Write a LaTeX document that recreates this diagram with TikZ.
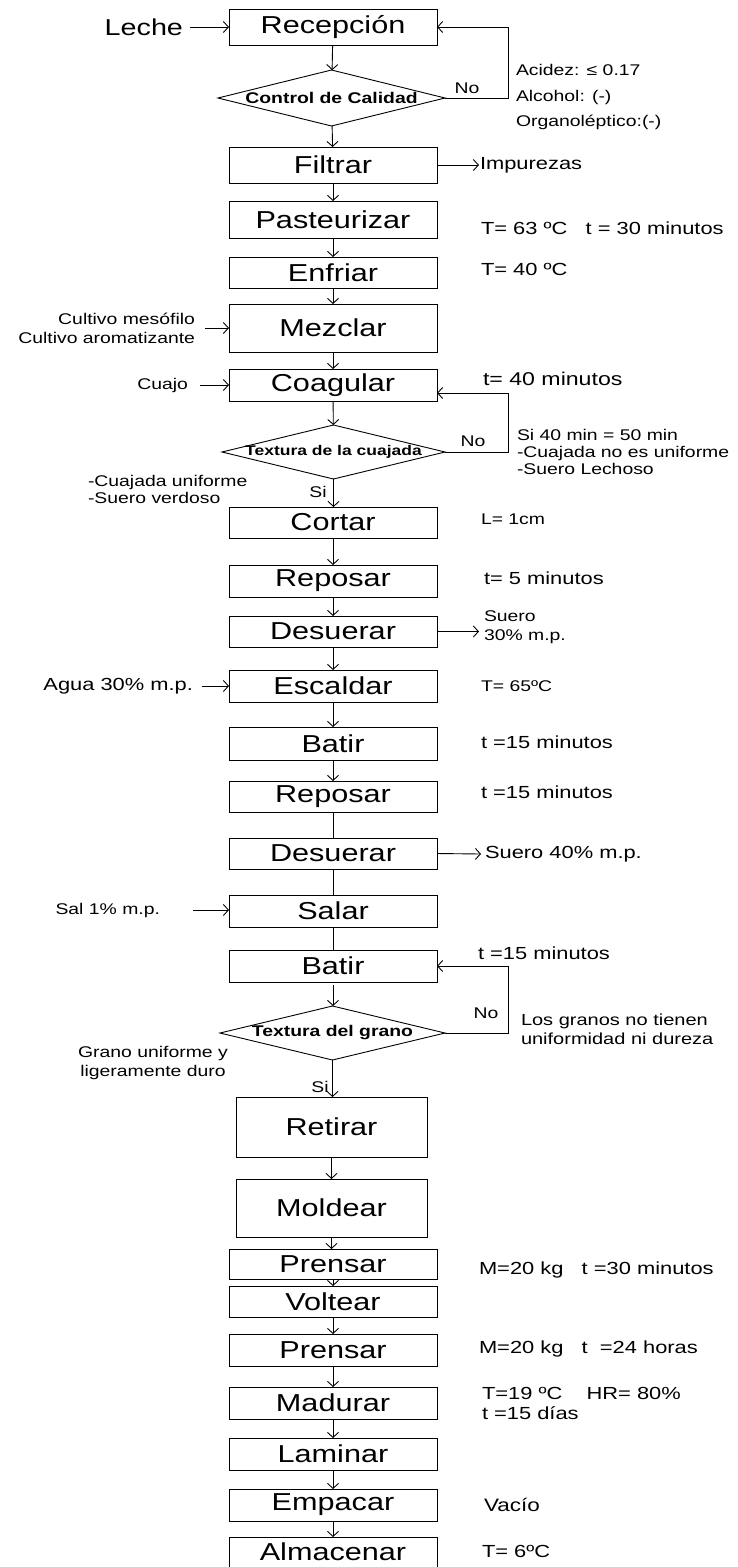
\documentclass[tikz,border=0pt]{standalone}
\usepackage{fontspec}
\setmainfont{Liberation Sans}[FakeStretch=1.25]
\usetikzlibrary{arrows.meta,shapes.geometric}
\begin{document}
\begin{tikzpicture}[x=1pt,y=-1pt,
  every node/.style={inner sep=0pt, outer sep=0pt},
  box/.style={draw, line width=0.9pt, minimum width=208pt, font=\fontsize{24.5}{27}\selectfont},
  bigbox/.style={draw, line width=0.9pt, minimum width=191pt, minimum height=62pt, font=\fontsize{24.5}{27}\selectfont},
  dia/.style={draw, diamond, line width=0.9pt},
  dtxt/.style={font=\fontsize{15.5}{18}\selectfont\bfseries},
  side/.style={font=\fontsize{15.5}{19}\selectfont, align=left},
  sideb/.style={font=\fontsize{17.5}{21}\selectfont, align=left},
  big/.style={font=\fontsize{23}{26}\selectfont},
  conn/.style={line width=0.9pt},
  arr/.style={conn, -{Straight Barb[length=5pt,width=11pt]}},
]
\useasboundingbox (0,0) rectangle (738,1567);

% main column
\node[box, minimum height=36pt] (rec) at (333,27) {Recepción};
\node[dia, minimum width=227pt, minimum height=56pt, label={[dtxt]center:Control de Calidad}] (d1) at (331.5,98) {};
\node[box, minimum height=36pt] (fil) at (333,165) {Filtrar};
\node[box, minimum height=37pt] (pas) at (333,219.5) {Pasteurizar};
\node[box, minimum height=31pt] (enf) at (333,272.5) {Enfriar};
\node[box, minimum height=48pt] (mez) at (333,328) {Mezclar};
\node[box, minimum height=32pt] (coa) at (333,385) {Coagular};
\node[dia, minimum width=223pt, minimum height=54pt, label={[dtxt,font=\fontsize{14}{16}\selectfont\bfseries]center:Textura de la cuajada}] (d2) at (333.5,452) {};
\node[box, minimum height=31pt] (cor) at (333,522.5) {Cortar};
\node[box, minimum height=32pt] (rep1) at (333,581) {Reposar};
\node[box, minimum height=31pt] (des1) at (333,631.5) {Desuerar};
\node[box, minimum height=32pt] (esc) at (333,686) {Escaldar};
\node[box, minimum height=33pt] (bat1) at (333,743.5) {Batir};
\node[box, minimum height=31pt] (rep2) at (333,796.5) {Reposar};
\node[box, minimum height=31pt] (des2) at (333,853.5) {Desuerar};
\node[box, minimum height=32pt] (sal) at (333,911) {Salar};
\node[box, minimum height=32pt] (bat2) at (333,966) {Batir};
\node[dia, minimum width=225pt, minimum height=54pt, label={[dtxt]center:Textura del grano}] (d3) at (332.5,1033) {};
\node[bigbox, minimum height=60pt] (ret) at (331.5,1127) {Retirar};
\node[bigbox, minimum height=58pt] (mol) at (331.5,1208) {Moldear};
\node[box, minimum height=30pt] (pr1) at (333,1264) {Prensar};
\node[box, minimum height=31pt] (vol) at (333,1301.5) {Voltear};
\node[box, minimum height=32pt] (pr2) at (333,1350) {Prensar};
\node[box, minimum height=32pt] (mad) at (333,1403) {Madurar};
\node[box, minimum height=32pt] (lam) at (333,1454) {Laminar};
\node[box, minimum height=32pt] (emp) at (333,1505) {Empacar};
\node[box, minimum height=30pt] (alm) at (333,1552) {Almacenar};

% main arrows
\draw[arr] (rec) -- (d1);
\draw[arr] (d1) -- (fil);
\draw[arr] (fil) -- (pas);
\draw[arr] (pas) -- (enf);
\draw[arr] (enf) -- (mez);
\draw[arr] (mez) -- (coa);
\draw[arr] (coa) -- (d2);
\draw[arr] (d2.south) -- (d2.south |- cor.north);
\draw[arr] (cor) -- (rep1);
\draw[arr] (rep1) -- (des1);
\draw[arr] (des1) -- (esc);
\draw[arr] (esc) -- (bat1);
\draw[arr] (bat1) -- (rep2);
\draw[conn] (rep2) -- (des2);
\draw[conn] (des2) -- (sal);
\draw[conn] (sal) -- (bat2);
\draw[arr] ([yshift=-3pt]bat2.south) -- (bat2.south |- d3.north);
\draw[arr] (d3.south) -- (d3.south |- ret.north);
\draw[arr] (ret) -- (mol);
\draw[arr] (mol.south) -- (mol.south |- pr1.north);
\draw[arr] (pr1) -- (vol);
\draw[arr] (vol) -- (pr2);
\draw[arr] (pr2) -- (mad);
\draw[arr] (mad) -- (lam);
\draw[arr] (lam) -- (emp);
\draw[arr] (emp) -- (alm);

% loops
\draw[arr] (d1.east) -- ++(63,0) |- (rec.east);
\node[side] (no1) at (467,88) {No};
\draw[arr] (d2.east) -- ++(63.5,0) |- ([yshift=-8pt]coa.east);
\node[side] (no2) at (473,441) {No};
\draw[arr] (d3.east) -- ++(63.5,0) |- (bat2.east);
\node[side] (no3) at (486,1013) {No};

% left inputs
\node[big, anchor=east] (leche) at (183,27) {Leche};
\draw[arr] ([xshift=7pt]leche.east) -- (rec.west);
\node[side, anchor=east, align=right] (cult) at (195,328) {Cultivo mesófilo\\Cultivo aromatizante};
\draw[arr] ([xshift=10pt]cult.east) -- (cult.east -| mez.west);
\node[side, anchor=east] (cuajo) at (188,385) {Cuajo};
\draw[arr] ([xshift=12pt]cuajo.east) -- (coa.west);
\node[side, anchor=west, font=\fontsize{15.5}{17}\selectfont] (cyes) at (88,489.5) {-Cuajada uniforme\\-Suero verdoso};
\node[side] (si1) at (318,492) {Si};
\node[sideb, anchor=east] (agua) at (193,686) {Agua 30\% m.p.};
\draw[arr] ([xshift=9pt]agua.east) -- (esc.west);
\node[side, anchor=east] (salin) at (160,910) {Sal 1\% m.p.};
\draw[arr] ([xshift=33pt]salin.east) -- (salin.east -| sal.west);
\node[side, align=center] (gyes) at (153,1062.5) {Grano uniforme y\\ligeramente duro};
\node[side] (si2) at (320,1087) {Si};

% right side
\node[side, anchor=west] (ac1) at (516,70) {Acidez: ≤ 0.17};
\node[side, anchor=west] (ac2) at (516,97) {Alcohol: (-)};
\node[side, anchor=west] (ac3) at (516,122) {Organoléptico:(-)};
\node[sideb, anchor=west] (imp) at (480,165) {Impurezas};
\draw[arr] (fil.east) -- ([xshift=-1pt]imp.west);
\node[sideb, anchor=west] (tpas) at (481,228) {T= 63 ºC~~~t = 30 minutos};
\node[sideb, anchor=west] (tenf) at (481,269) {T= 40 ºC};
\node[sideb, anchor=west, font=\fontsize{18.5}{21}\selectfont] (tcoa) at (483,379) {t= 40 minutos};
\node[side, anchor=west, font=\fontsize{15.5}{17}\selectfont] (cno) at (517,452) {Si 40 min = 50 min\\-Cuajada no es uniforme\\-Suero Lechoso};
\node[side, anchor=west] (tcor) at (481,519) {L= 1cm};
\node[sideb, anchor=west] (trep1) at (484,578) {t= 5 minutos};
\node[side, anchor=west] (sue1) at (484,627.5) {Suero\\30\% m.p.};
\draw[arr] (des1.east) -- ([xshift=-5pt]des1.east -| sue1.west);
\node[side, anchor=west] (tesc) at (481,686) {T= 65ºC};
\node[sideb, anchor=west] (tbat1) at (481,742) {t =15 minutos};
\node[sideb, anchor=west] (trep2) at (481,792) {t =15 minutos};
\node[sideb, anchor=west] (sue2) at (485,854) {Suero 40\% m.p.};
\draw[arr] (des2.east) -- ([xshift=-4pt]sue2.west);
\node[sideb, anchor=west] (tbat2) at (478,953) {t =15 minutos};
\node[side, anchor=west, font=\fontsize{16}{19}\selectfont] (gno) at (521,1029.5) {Los granos no tienen\\uniformidad ni dureza};
\node[sideb, anchor=west] (tpr1) at (479,1270) {M=20 kg~~~t =30 minutos};
\node[sideb, anchor=west] (tpr2) at (479,1349) {M=20 kg~~~t~~=24 horas};
\node[sideb, anchor=west, font=\fontsize{17.5}{20}\selectfont] (tmad) at (482,1403) {T=19 ºC~~~~HR= 80\%\\t =15 días};
\node[sideb, anchor=west, font=\fontsize{18}{21}\selectfont] (temp) at (484,1505) {Vacío};
\node[sideb, anchor=west] (talm) at (482,1551) {T= 6ºC};
\end{tikzpicture}
\end{document}
